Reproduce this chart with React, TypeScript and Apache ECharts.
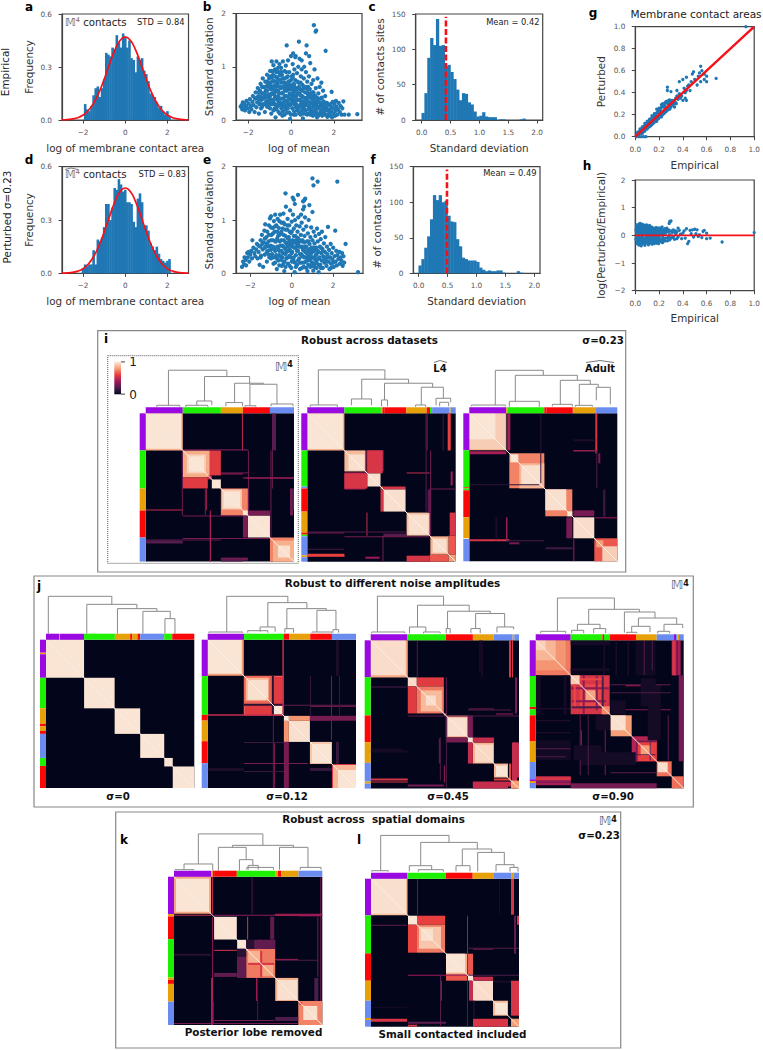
import React, { useEffect, useRef } from "react";
import * as echarts from "echarts";

const FONT = "DejaVu Sans";
const BLUE = "#1f77b4";
const RED = "#f5111a";

// ---------- histograms ----------
const histAX = [-1.9,-1.8,-1.7,-1.6,-1.5,-1.4,-1.3,-1.2,-1.1,-1.0,-0.9,-0.8,-0.7,-0.6,-0.5,-0.4,-0.3,-0.2,-0.1,0,0.1,0.2,0.3,0.4,0.5,0.6,0.7,0.8,0.9,1.0,1.1,1.2,1.3,1.4,1.5,1.6,1.7,1.8,1.9,2.0,2.1];
const histAY = [.09,.06,.05,.08,.14,.18,.19,.13,.18,.23,.38,.37,.36,.41,.40,.48,.44,.41,.49,.47,.41,.45,.35,.34,.27,.36,.34,.35,.28,.26,.22,.15,.14,.13,.10,.07,.08,.05,.03,.05,.02];
const histDX = [-2.0,-1.9,-1.8,-1.7,-1.6,-1.5,-1.4,-1.3,-1.2,-1.1,-1.0,-0.9,-0.8,-0.7,-0.6,-0.5,-0.4,-0.3,-0.2,-0.1,0,0.1,0.2,0.3,0.4,0.5,0.6,0.7,0.8,0.9,1.0,1.1,1.2,1.3,1.4,1.5,1.6,1.7,1.8,1.9,2.0,2.1];
const histDY = [.03,.05,.04,.05,.05,.13,.05,.19,.18,.20,.26,.39,.39,.30,.37,.48,.47,.53,.50,.46,.47,.40,.40,.39,.29,.26,.42,.45,.40,.27,.27,.24,.17,.15,.13,.15,.11,.08,.07,.06,.07,.08];
const fitX = [-3,-2.75,-2.5,-2.25,-2,-1.75,-1.5,-1.25,-1,-0.75,-0.5,-0.25,0,0.25,0.5,0.75,1,1.25,1.5,1.75,2,2.25,2.5,2.75,3];
const fitA = [.001,.002,.006,.013,.028,.054,.096,.155,.231,.315,.394,.45,.47,.45,.394,.315,.231,.155,.096,.054,.028,.013,.006,.002,.001];
const fitD = [.001,.002,.005,.012,.026,.052,.094,.155,.232,.319,.40,.459,.48,.459,.40,.319,.232,.155,.094,.052,.026,.012,.005,.002,.001];
const histCX = [.025,.075,.125,.175,.225,.275,.325,.375,.425,.475,.525,.575,.625,.675,.725,.775,.825,.875,.925,.975,1.025,1.075,1.125,1.175,1.225,1.275,1.375,1.425,1.725,1.775];
const histCY = [10,38,88,116,106,143,105,106,76,78,68,58,43,28,38,37,25,22,12,5,6,11,5,4,4,4,1,1,1,2];
const histFX = [.025,.075,.125,.175,.225,.275,.325,.375,.425,.475,.525,.575,.625,.675,.725,.775,.825,.875,.925,.975,1.025,1.075,1.125,1.175,1.225,1.275,1.325,1.375,1.425,1.475,1.725,1.775];
const histFY = [11,20,36,52,76,110,103,110,100,102,81,73,72,48,38,22,20,18,18,18,16,8,5,3,4,3,3,4,4,1,3,1];

// ---------- scatters (flat x,y pairs) ----------
const scatterB = [-2.35,.25,-2.3,.28,-2.28,.2,-2.25,.33,-2.2,.22,-2.18,.3,-2.15,.18,-2.1,.26,-2.08,.36,-2.02,.22,-1.98,.31,-1.95,.15,-1.92,.39,-1.88,.26,-1.85,.2,-1.8,.34,-1.78,.45,-1.75,.28,-1.7,.15,-1.68,.4,-1.65,.52,-1.62,.24,-1.58,.33,-1.55,.6,-1.52,.45,-1.5,.12,-1.48,.3,-1.45,.55,-1.42,.68,-1.4,.22,-1.38,.38,-1.35,.5,-1.32,.78,-1.3,.62,-1.28,.3,-1.25,.43,-1.22,.15,-1.2,.72,-1.18,.55,-1.15,.35,-1.12,.85,-1.1,.65,-1.08,.25,-1.05,.48,-1.02,.78,-1.0,.38,-.98,.92,-.95,.58,-.92,.12,-.9,1.1,-.88,.72,-.86,.3,-.84,.85,-.82,1.03,-.8,.48,-.78,.65,-.76,.22,-.74,.95,-.72,.05,-.7,.55,-.68,1.1,-.66,.8,-.64,.38,-.62,.68,-.6,.9,-.58,.15,-.56,.5,-.54,1.05,-.52,.28,-.5,.75,-.48,.6,-.46,.98,-.44,.4,-.42,.85,-.4,.08,-.38,1.1,-.36,.52,-.34,.7,-.32,.25,-.3,.92,-.28,.62,-.26,.35,-.24,1.02,-.22,.45,-.2,.8,-.18,.14,-.16,.58,-.14,1.12,-.12,.72,-.1,.3,-.08,.9,-.06,.5,-.04,.02,-.02,.65,0,1.2,.02,.38,.04,.82,.06,.22,.08,1.05,.1,.55,.12,.68,.14,.1,.16,.95,.18,.45,.2,.75,.22,1.2,.24,.3,.26,.6,.28,.88,.3,.18,.32,.5,.34,1.0,.36,.7,.38,.38,.4,1.15,.42,.12,.44,.58,.46,.82,.48,.26,.5,.95,.52,.45,.54,.66,.56,.03,.58,.34,.6,.78,.62,1.0,.64,.2,.66,.52,.68,.4,.7,.9,.72,.6,.74,.28,.76,.72,.78,.12,.8,.48,.82,.35,.84,.82,.86,.24,.88,.58,.9,1.07,.92,.42,.94,.16,.96,.68,.98,.32,1.0,.52,1.02,.08,1.04,.75,1.06,.25,1.08,.45,1.1,.95,1.12,.35,1.14,.18,1.16,.6,1.18,.28,1.2,.42,1.22,.05,1.24,.78,1.26,.22,1.28,.5,1.3,.33,1.32,.12,1.34,.62,1.36,.25,1.38,.4,1.4,.17,1.42,.7,1.44,.3,1.46,.08,1.48,.2,1.5,.55,1.52,.35,1.55,.14,1.58,.26,1.6,.45,1.62,.1,1.65,.22,1.68,.32,1.7,.06,1.72,.18,1.75,.28,1.78,.12,1.8,.2,1.83,.08,1.85,.3,1.88,.16,1.9,.24,1.92,.05,1.95,.34,1.98,.12,2.0,.22,2.03,.3,2.06,.08,2.08,.17,2.1,.36,2.13,.25,2.16,.1,2.2,.2,2.23,.32,2.28,.15,2.32,.26,2.36,.1,2.4,.22,2.45,.35,2.5,.1,2.7,.1,3.1,.11,1.07,1.78,1.18,1.68,1.15,1.66,-.2,1.4,.37,1.47,.73,1.4,1.62,1.3,.85,1.2,.7,1.25,.1,1.25,.2,1.18,.5,1.12,1.9,.53,-.95,.3,-.85,.5,-.75,.42,-.65,.25,-.55,.33,-.45,.22,-.35,.4,-.25,.2,-.15,.44,-.05,.28,.05,.42,.15,.3,.25,.45,.35,.22,.45,.38,.55,.24,.65,.3,.75,.42,.85,.12,.95,.45,1.05,.38,1.15,.32,1.25,.4,-.6,.44,-.4,.3,-.2,.55,0,.48,.2,.6,.4,.5,.6,.6,.8,.62,1.0,.38,-.7,.72,-.5,.9,-.3,.78,-.1,.62,.1,.85];
const scatterB2 = [-1.6,.42,-1.5,.38,-1.5,.52,-1.42,.3,-1.42,.44,-1.35,.25,-1.35,.62,-1.28,.5,-1.28,.4,-1.2,.3,-1.2,.47,-1.2,.62,-1.12,.25,-1.12,.42,-1.12,.55,-1.12,.72,-1.05,.32,-1.05,.62,-1.05,.7,-.98,.22,-.98,.45,-.98,.68,-.98,.82,-.9,.38,-.9,.5,-.9,.62,-.9,.8,-.9,.92,-.82,.18,-.82,.36,-.82,.58,-.82,.74,-.82,.92,-.75,.3,-.75,.52,-.75,.64,-.75,.82,-.68,.2,-.68,.44,-.68,.62,-.68,.72,-.68,.9,-.6,.3,-.6,.55,-.6,.76,-.6,.98,-.52,.12,-.52,.4,-.52,.62,-.52,.84,-.45,.28,-.45,.5,-.45,.7,-.45,.9,-.38,.16,-.38,.32,-.38,.62,-.38,.78,-.3,.1,-.3,.45,-.3,.58,-.3,.7,-.22,.28,-.22,.36,-.22,.65,-.22,.9,-.15,.22,-.15,.34,-.15,.68,-.15,.82,-.08,.14,-.08,.4,-.08,.58,-.08,.72,0,.1,0,.3,0,.58,0,.75,.08,.32,.08,.46,.08,.6,.08,.8,.15,.16,.15,.38,.15,.52,.15,.66,.22,.1,.22,.24,.22,.36,.22,.56,.3,.38,.3,.58,.3,.72,.38,.14,.38,.26,.38,.5,.38,.62,.45,.1,.45,.3,.45,.46,.45,.7,.52,.18,.52,.32,.52,.55,.6,.12,.6,.25,.6,.42,.68,.18,.68,.3,.68,.62,.75,.1,.75,.35,.75,.52,.82,.2,.82,.44,.82,.58,.9,.1,.9,.3,.9,.5,.98,.14,.98,.22,.98,.42,1.05,.15,1.05,.3,1.05,.52,1.12,.1,1.12,.25,1.12,.46,1.2,.14,1.2,.34,1.28,.08,1.28,.24,1.28,.4,1.36,.12,1.36,.32,1.44,.18,1.44,.42,1.52,.1,1.52,.25,1.6,.18,1.6,.32];
const scatterE = [-2.4,.12,-2.35,.22,-2.3,.17,-2.28,.3,-2.22,.25,-2.2,.15,-2.15,.38,-2.12,.3,-2.08,.4,-2.05,.22,-2.0,.35,-1.95,.42,-1.92,.28,-1.9,.62,-1.85,.48,-1.8,.38,-1.76,.32,-1.72,.45,-1.68,.55,-1.65,.28,-1.6,.4,-1.55,.16,-1.52,.5,-1.5,.62,-1.48,.33,-1.44,.72,-1.4,.45,-1.38,.12,-1.35,.58,-1.32,.8,-1.3,.35,-1.28,.92,-1.25,.5,-1.22,.68,-1.2,.22,-1.18,.78,-1.15,.42,-1.12,.6,-1.1,.9,-1.08,.3,-1.05,1.03,-1.02,.52,-1.0,1.07,-.98,.72,-.95,.36,-.92,.85,-.9,.62,-.88,.18,-.86,.98,-.84,.46,-.82,.78,-.8,1.1,-.78,.3,-.76,.6,-.74,.9,-.72,.08,-.7,.5,-.68,1.02,-.66,.7,-.64,.24,-.62,.85,-.6,.42,-.58,.6,-.56,1.1,-.54,.32,-.52,.75,-.5,.95,-.48,.14,-.46,.52,-.44,.84,-.42,.38,-.4,1.12,-.38,.62,-.36,.04,-.34,.92,-.32,.46,-.3,.7,-.28,1.25,-.26,.28,-.24,.55,-.22,.82,-.2,1.02,-.18,.18,-.16,.42,-.14,.68,-.12,.9,-.1,.33,-.08,1.18,-.06,.52,-.04,.76,-.02,.1,0,.97,.02,.4,.04,.62,.06,1.1,.08,.25,.1,.84,.12,.48,.14,.02,.16,1.0,.18,.7,.2,.34,.22,.9,.24,.55,.26,.16,.28,.78,.3,.42,.32,1.05,.34,.6,.36,.28,.38,.88,.4,.08,.42,.5,.44,.72,.46,.36,.48,.95,.5,.2,.52,.62,.54,.44,.56,.82,.58,.12,.6,.3,.62,.7,.64,1.05,.66,.5,.68,.22,.7,.88,.72,.38,.74,.6,.76,.04,.78,.75,.8,.45,.82,1.0,.84,.28,.86,.55,.88,.14,.9,.68,.92,.36,.94,.86,.96,.48,.98,.2,1.0,.62,1.02,.3,1.04,.05,1.06,.78,1.08,.42,1.1,.56,1.12,.18,1.14,.7,1.16,.34,1.18,.48,1.2,.1,1.22,.84,1.24,.26,1.26,.6,1.28,.4,1.3,.02,1.32,.74,1.34,.3,1.36,.5,1.38,.16,1.4,.64,1.42,.38,1.44,.24,1.46,.78,1.48,.46,1.5,.1,1.52,.32,1.55,.56,1.58,.2,1.6,.4,1.62,.68,1.65,.28,1.68,.14,1.7,.5,1.72,.36,1.75,.87,1.78,.22,1.8,.44,1.82,.08,1.85,.3,1.88,.55,1.9,.18,1.93,.38,1.96,.26,2.0,.48,2.03,.12,2.06,.32,2.1,.8,2.12,.22,2.15,.42,2.18,.15,2.2,.34,2.25,.27,2.3,.4,2.33,.18,2.36,.3,2.4,.24,2.43,.38,2.46,.14,2.5,.32,2.53,.2,2.6,.55,3.2,.02,1.0,1.78,1.25,1.72,2.2,1.72,1.05,1.65,-.3,1.5,.3,1.47,.65,1.4,.6,1.37,.55,1.35,.05,1.42,.1,1.38,.15,1.3,.85,1.28,.6,1.25,.55,1.2,1.0,1.15,.45,1.1,-.55,.52,-.45,.3,-.35,.22,-.25,.4,-.15,.58,-.05,.3,.05,.5,.15,.2,.25,.42,.35,.5,.45,.6,.55,.32,.65,.4,.75,.24,.85,.4,.95,.3,1.05,.48,-.75,.34,-.65,.46,1.15,.25,1.25,.42];
const scatterE2 = [-1.6,.52,-1.5,.3,-1.42,.55,-1.3,.48,-1.3,.65,-1.2,.4,-1.2,.55,-1.1,.35,-1.1,.5,-1.1,.72,-1.0,.28,-1.0,.44,-1.0,.62,-1.0,.86,-.9,.3,-.9,.5,-.9,.75,-.8,.2,-.8,.42,-.8,.6,-.8,.88,-.7,.28,-.7,.65,-.7,.78,-.6,.15,-.6,.34,-.6,.72,-.6,.98,-.5,.25,-.5,.42,-.5,.62,-.5,.78,-.4,.18,-.4,.5,-.4,.72,-.4,.95,-.3,.12,-.3,.36,-.3,.58,-.3,.82,-.2,.3,-.2,.5,-.2,.66,-.2,.9,-.1,.14,-.1,.45,-.1,.62,-.1,.78,0,.22,0,.38,0,.55,0,.78,.1,.3,.1,.58,.1,.7,.2,.12,.2,.48,.2,.62,.3,.24,.3,.55,.3,.66,.4,.2,.4,.36,.4,.62,.5,.1,.5,.32,.5,.5,.6,.2,.6,.44,.6,.58,.7,.1,.7,.3,.7,.5,.8,.16,.8,.32,.8,.6,.9,.12,.9,.24,.9,.46,1.0,.14,1.0,.4,1.1,.12,1.1,.28,1.1,.46,1.2,.2,1.2,.36,1.3,.16,1.3,.28,1.4,.1,1.4,.48,1.5,.24,1.5,.42,1.6,.3,1.7,.22,1.8,.3,1.9,.1,2.0,.2];
const scatterG = [.27,.45,.27,.42,.3,.41,.37,.5,.4,.52,.43,.54,.48,.57,.49,.59,.55,.64,.54,.58,.58,.57,.58,.52,.6,.55,.6,.5,.55,.5,.52,.47,.47,.5,.44,.46,.46,.42,.42,.4,.42,.35,.4,.33,.43,.33,.38,.35,.68,.53,.35,.42,.35,.37,.33,.33,.33,.27,.3,.27,.29,.25,.28,.33,.25,.31,.22,.29,.2,.26,.18,.25,.16,.21,.14,.19,.12,.16,.1,.14,.08,.12,.06,.09,.04,.07,.02,.04,.27,.24,.25,.22,.22,.18,.2,.17,.18,.14,.16,.13,.14,.11,.12,.09,.1,.07,.08,.05,.06,.03,.01,0,.03,0,.05,0,.07,0,.09,0,.93,1.0,.99,.99,.03,.02,.05,.07,.07,.05,.09,.11,.11,.09,.13,.15,.15,.12,.17,.2,.19,.16,.21,.24,.23,.2,.24,.27,.26,.23,.28,.3,.3,.32,.31,.29,.32,.3,.34,.31,.36,.34,.37,.39,.39,.37,.41,.44,.43,.42,.45,.47,.5,.52,.53,.55,.56,.6,.23,.3,.26,.32,.29,.31,.31,.33,.2,.23,.15,.18,.11,.14,.13,.1,.17,.17,.19,.22,.22,.22,.24,.21];
const scatterG2 = [.01,.015,.015,.01,.02,.03,.025,.015,.03,.045,.035,.025,.04,.055,.045,.03,.05,.06,.055,.045,.06,.075,.065,.05,.07,.09,.075,.06,.08,.1,.085,.07,.09,.115,.095,.075,.1,.12,.105,.085,.11,.135,.115,.095,.12,.145,.125,.105,.13,.16,.135,.115,.14,.17,.145,.125,.15,.185,.155,.135,.16,.19,.165,.145,.17,.205,.175,.15,.18,.215,.185,.165,.19,.23,.195,.17,.2,.24,.205,.18,.21,.255,.215,.19,.22,.265,.225,.2,.23,.275,.235,.21,.24,.29,.245,.22,.25,.28,.255,.235,.26,.305,.265,.24,.27,.31,.275,.25,.28,.3,.285,.26,.29,.335,.295,.27,.31,.325,.32,.29,.34,.35,.345,.3];
const scatterH = [.01,.3,.015,-.3,.02,.35,.02,-.2,.025,.18,.03,-.35,.03,.4,.035,.1,.04,-.25,.04,.43,.045,.28,.05,-.38,.05,.2,.055,.4,.06,-.3,.06,.12,.065,.34,.07,-.22,.07,.38,.075,.25,.08,-.36,.08,-.12,.085,.32,.09,.16,.09,-.28,.095,.38,.1,-.2,.1,.3,.105,.1,.11,-.34,.115,.24,.12,.36,.12,-.26,.125,.16,.13,-.14,.135,.3,.14,-.32,.14,.2,.145,.08,.15,-.24,.155,.26,.16,.12,.16,-.3,.165,.2,.17,-.18,.175,.28,.18,-.28,.185,.14,.19,.24,.19,-.12,.195,-.3,.2,.18,.205,.26,.21,-.22,.215,.1,.22,.22,.22,-.16,.225,.3,.23,-.26,.235,.14,.24,.2,.24,-.12,.25,.24,.25,-.2,.26,.12,.265,.26,.27,-.1,.28,.2,.285,.43,.29,.5,.3,.52,.29,-.16,.3,.16,.31,.1,.31,-.08,.32,.2,.33,-.14,.34,.06,.35,.12,.36,-.06,.36,.26,.37,.18,.38,.04,.39,-.12,.4,.08,.41,.16,.42,-.1,.43,.24,.44,-.3,.45,-.22,.46,.18,.47,.06,.48,.2,.49,-.06,.5,.22,.51,.06,.52,.2,.53,-.04,.54,.02,.56,-.08,.57,.14,.58,.18,.6,-.12,.6,.08,.63,-.1,.73,-.24,1.0,.1,.01,.1,.02,-.1,.03,.22,.04,.05,.05,-.12,.06,-.05,.07,.14,.08,.05,.09,-.18,.1,.06,.11,-.08,.12,.12,.13,.04,.14,-.06,.15,.1,.16,-.06,.17,.06,.18,-.1,.19,.05,.2,-.06,.21,.12,.22,.04,.23,-.06];
const scatterH2 = [.005,.2,.005,-.15,.01,-.05,.012,.38,.015,.12,.018,-.24,.02,.25,.022,.04,.025,-.12,.028,.3,.03,-.05,.032,.12,.035,-.18,.035,.32,.038,-.3,.04,.2,.042,-.08,.045,.38,.048,.1,.05,-.22,.052,.3,.055,.02,.058,.18,.06,-.14,.062,.26,.065,-.24,.068,.06,.07,.28,.072,-.1,.075,-.28,.078,.18,.08,.32,.082,.08,.085,-.2,.088,.24,.09,.02,.092,-.06,.095,.12,.098,-.26,.1,.2,.102,-.1,.105,.3,.108,.02,.11,.18,.112,-.22,.115,-.12,.118,.08,.12,.28,.122,-.02,.125,.22,.128,-.18,.13,.06,.132,.2,.135,-.28,.138,.14,.14,.28,.142,-.12,.145,.22,.148,-.18,.15,.04,.152,.18,.155,-.1,.158,-.24,.16,.24,.162,.04,.165,-.14,.168,.14,.17,.22,.172,-.24,.175,.08,.178,-.06,.18,.2,.182,-.16,.185,.26,.188,.04,.19,-.2,.192,.12,.195,.2,.198,-.08,.2,.26,.205,-.14,.21,.04,.215,.2,.22,-.24,.225,.12,.23,.04,.235,.2,.24,-.2,.245,.1,.25,.04,.255,-.1,.26,.2,.27,.14,.27,-.2,.28,-.06,.28,.12,.29,.02,.3,-.1,.32,-.06,.34,.16,.33,.12,.35,-.12];

// ---------- clustered maps: cells are [x0,x1,y0,y1,value] in site index, symmetric ----------
const i1Cells = [[0,37,0,37,.84],[0,35.5,0,35.5,.98],[37,64,37,64,.83],[41,60,41,60,.93],[45,58,43,58,.98],[64,75,37,62,.58],[66,75,66,75,.98],[62,66,62,66,.5],[75,102,75,102,.74],[76,96,76,96,.92],[79,94,78,94,.98],[97,102,97,102,.98],[102,124,102,124,.98],[97,102,102,124,.3],[124,148,124,148,.74],[127,148,127,148,.84],[132,144,132,144,.97],[0,37,96,97,.5],[126,127,0,75,.25],[0,37,127,130,.22],[37,124,124.5,125.5,.3],[64,65,100,148,.3],[37,97,102,103,.3],[75,97,60,61,.45],[59,60,75,102,.3],[97,148,64,65,.45],[37,102,36,37,.3],[75,102,144,147,.28],[146,148,75,97,.22]];
const i1Links = [[22.7,81,8,36.7,43],[58.7,103.7,12.3,30,36.7],[88.7,117.7,10.7,29,30],[104,131,7.5,9.3,29],[51,66,8,8,12.3],[80,96.7,7,7,10.7],[125,147,7,7,9.3],[11,34,6.5,6.5,8],[40,62,6.5,6.5,8],[99,110,6.5,6.5,7.5]];
const i1Top = [[0,37,0],[37,75,1],[75,97,2],[97,124,3],[124,148,4]];
const i1Left = [[0,37,0],[37,75,1],[75,97,2],[97,124,3],[124,148,4]];

const i2Cells = [[0,37,0,37,.84],[0,35.5,0,35.5,.98],[37,58,37,58,.87],[41,57,41,57,.97],[59,76,37,58,.45],[37,60,60,75,.55],[60,73,60,73,.97],[58,60,58,60,.6],[73,76,73,76,.7],[76,98,73,76,.55],[76,98,76,98,.97],[99,122,99,122,.88],[101,121,101,121,.97],[122.7,141,122.7,141,.84],[125,139,125,139,.97],[122,141,141,148,.65],[99,122,142,148,.55],[141,148,141,148,.8],[141.5,142.5,0,37,.5],[99,122,59,60,.5],[118,119,0,98,.22],[122,148,75,76,.3],[76,99,120,123,.22],[0,37,140,143,.6],[37,122,122.5,123.5,.3],[0,37,119,120,.3],[0,37,135,136,.18],[143,145,58,72,.4]];
const i2Links = [[11,77.4,8.3,34,43.3],[54.3,101,14.3,30,34],[77,125,13.3,26,30],[113.7,135.7,8.3,15,26],[128.4,143,8,11,15],[44,64,8,8,14.3],[3,30,6.5,6.5,8.3],[74,80,7,7,13.3],[108,118,6.5,6.5,8.3],[132,141,7,7,11]];
const i2Top = [[0,37,0],[37,73.4,1],[73.4,75,2],[75,76.7,3],[76.7,98.7,3],[98.7,119,2],[119,122.4,3],[122.4,124.5,1],[124.5,142,4],[142,143,2],[143,148,4]];
const i2Left = [[0,37,0],[37,73,1],[73,75,4],[75,98,3],[98,119,2],[119,121,3],[121,122.7,1],[122.7,141.7,4],[141.7,143.5,2],[143.5,148,4]];

const i3Cells = [[0,37,0,37,.84],[0,36,0,36,.92],[0,26,0,26,.98],[0,37,38,41,.42],[40,75,40,75,.74],[41,49,41,49,.98],[50,75,50,75,.86],[52,72,52,72,.97],[76,103,76,103,.74],[76,97,76,97,.97],[98,103,98,103,.98],[104,125,104,125,.96],[104,125,97,103,.3],[125,148,125,148,.65],[133,148,133,148,.92],[127,134,127,134,.8],[126,128,0,40,.55],[40,50,129,131,.3],[37,38,104,125,.3],[126,148,104,105,.4],[104,126,37,38,.45],[76,104,135,136,.2],[134,135,77,103,.2],[71,72,0,70,.12],[104,126,26,28,.07],[37,75,127,128,.2]];
const i3Links = [[26,74,8.3,38,43],[46,108,12,33,38],[91,121,9,29,33],[110,129,8,26,29],[127,141,13,9,26],[2,36,7,7,8.3],[40,70,6.5,6.5,12],[83,103,7,7,9],[106,123,6.5,6.5,8]];
const i3Top = [[0,37,0],[37,38,2],[38,75,1],[75,77,3],[77,103,3],[103,104,3],[104,126,2],[126,148,4]];
const i3Left = [[0,37,0],[37,74,1],[74,75,3],[75,77,1],[77,104,3],[104,125,2],[125.7,148,4]];

const j1Cells = [[0,38,0,38,.98],[38,68.5,38,68.5,.98],[68.5,94,68.5,94,.98],[94,118,94,118,.98],[118,126.5,118,126.5,.98],[126.5,148,126.5,148,.98]];
const j1Links = [[2.3,65.7,6,35.3,43.3],[40.7,90.7,6,31,35.3],[71.3,110.7,6,28.3,31],[96.7,124,6,21,28.3],[118.7,128.7,6,6,21]];
const j1Top = [[0,13,0],[13,14,2],[14,38,0],[38,68.7,1],[68.7,84,2],[84,86,3],[86,91.3,2],[91.3,94,3],[94,118,4],[118,126,1],[126,148,3]];
const j1Left = [[0,13,0],[13,14.5,2],[14.5,38,0],[38,68.3,1],[68.3,84,2],[84,86.5,3],[86.5,91,2],[91,94,3],[94,118,4],[118,126,1],[126,148,3]];

const j2Cells = [[0,36,0,36,.8],[0,34,0,34,.98],[36,75.7,36,75.7,.68],[38,61,38,61,.86],[42,60,40,58,.97],[65.5,75.5,37,65,.58],[66,75,66,75,.98],[64,66,36,76,.1],[81,102,81,102,.97],[81,102,76,81,.78],[76,81,76,81,.98],[102,124,102,124,.9],[104,123,104,123,.98],[124,148,124,148,.86],[130,148,130,148,.98],[124,125,124,148,.55],[102,124,76,81,.3],[0,76,74.5,76,.5],[102,148,66,67,.35],[36,100,123,124,.3],[76,81,124,148,.3],[65,66,76,148,.25],[36,76,102,103,.15],[0,36,128,131,.07],[36,76,131,132,.15],[102,124,128,131,.14]];
const j2Links = [[19,80,7.7,37,43.3],[60,99,12.7,31,37],[79,118.3,11,29.3,31],[109,128,7.7,10,29.3],[52.3,67.3,8,8,12.7],[77,85.7,7,7,11],[125,130.7,7,7,10],[1,35,7,7,7.7],[104,124,7,7,7.7],[40,60,7,7,9]];
const j2Top = [[0,36.3,0],[36.3,75.7,1],[75.7,81.3,3],[81.3,102.3,2],[102.3,124,3],[124,148,4]];
const j2Left = [[0,36.3,0],[36.3,75,1],[75,80.7,3],[80.7,101.3,2],[101.3,123.3,3],[123.3,148,4]];

const j3Cells = [[0,37,0,37,.82],[0,35,0,35,.96],[37,46,37,46,.95],[46,73,37,46,.58],[46,73,46,73,.72],[50,71,50,71,.87],[55,65,55,65,.96],[73,75,73,75,.8],[75,97,75,97,.76],[77,96,77,96,.97],[75,97,97,102,.3],[97,102,97,102,.98],[102,123,102,123,.84],[104,122,104,122,.95],[102,123,97,102,.5],[123,137,123,137,.86],[125,136,125,136,.98],[102,148,141,146,.5],[142,148,102,137,.5],[123,140,138,140,.6],[140,148,140,148,.8],[0,37,138,140,.55],[0,37,141,142,.55],[125,142,73,74,.4],[98,123,68,69,.3],[69,70,97,140,.22],[0,37,46,47,.2],[75,76,37,75,.25],[37,73,144,146,.3],[75,76,76,148,.2],[108,112,0,32,.05],[0,37,110,112,.05]];
const j3Links = [[6.7,72.7,8.3,35,44],[46.7,98.3,13.3,29,35],[76.7,119.3,11.7,26.7,29],[104.7,133.7,11.7,13.3,26.7],[126,142.7,7.7,11,13.3],[38.7,55,7,8.3,13.3],[52.7,69.3,7,7,8.3],[100,109.3,7,7,11.7],[75.3,79.3,7,7,11.7],[1,34,7,7,8.3]];
const j3Top = [[0,36.7,0],[36.7,75,1],[75,102,3],[102,122.7,2],[122.7,141.7,4],[141.7,143.3,2],[143.3,148,4]];
const j3Left = [[0,36.7,0],[36.7,75,1],[75,101.7,3],[101.7,122.3,2],[122.3,141,4],[141,143,2],[143,148,4]];

const j4Cells = [[0,35,0,35,.72],[0,30,0,30,.78],[0,20,0,20,.86],[0,10,0,10,.93],[35,74,35,74,.55],[35,44,35,44,.92],[44,66,44,66,.62],[50,60,50,60,.82],[66,74,66,74,.75],[47,49,35,74,.35],[60,62,36,70,.35],[66,68,36,66,.2],[44,66,38,40,.62],[75,96,75,96,.8],[75,90,75,90,.97],[96,121,96,121,.45],[100,121,100,121,.6],[105,115,105,115,.8],[100,102,100,121,.3],[121,136,121,136,.7],[122,132,122,132,.96],[136,148,136,148,.7],[136,141,0,35,.5],[0,35,137,140,.55],[0,35,142,145,.42],[0,35,140,142,.35],[35,121,143,148,.3],[90,125,45,46,.45],[44,45,75,135,.25],[114,115,75,120,.25],[69,70,75,135,.32],[75,120,132,133,.25],[0,35,110,111,.15],[0,35,68,69,.1],[60,74,75,90,.05],[38,66,105,120,.05],[100,120,0,35,.04],[112,125,45,100,.05],[35,74,0,5,.05],[35,74,28,31,.05],[108,109,0,35,.22],[116,117,0,30,.2],[80,81,0,35,.1],[92,93,0,35,.1],[52,53,75,135,.2]];
const j4Links = [[21.7,78.7,9,31,42.3],[53,103.7,16,28.3,31],[88.7,119.3,7.7,22.3,28.3],[102.7,141,14,16,22.3],[128.3,147,9,12.3,16],[41.7,64.3,10,11.7,16],[96,114.3,8,8,14],[36,48,7,7,10],[58,70,7,7,11.7],[91,101,7,7,8],[122,134,7,7,9],[5,30,7,7,9]];
const j4Top = [[0,35,0],[35,66.7,1],[66.7,68.3,3],[68.3,74.3,1],[74.3,100.3,3],[100.3,121,2],[121,138.3,4],[138.3,140.3,0],[140.3,141.7,4],[141.7,143.3,2],[143.3,148,4]];
const j4Left = [[0,35.7,0],[35.7,66.7,1],[66.7,69,3],[69,75,1],[75,100.7,3],[100.7,121.7,2],[121.7,139,4],[139,140.7,0],[140.7,142.7,2],[142.7,148,4]];

const kCells = [[0,37,0,37,.82],[2,35,2,35,.98],[40,62.7,40,62.7,.98],[0,37,38,39,.5],[40,148,38,39,.35],[63,72,63,72,.98],[72,101,72,101,.72],[74,86,74,86,.85],[88,99,88,99,.82],[86,88,74,100,.55],[72,74,72,74,.9],[63,72,83,88,.5],[63,72,88,101,.32],[72,101,63,72,.25],[72,80,63,72,.1],[101,124,101,124,.84],[103,123,103,123,.97],[124,148,124,148,.74],[129,143,129,143,.97],[125,128,125,128,.6],[101,124,82,83,.45],[40,62.7,73,74,.55],[40,62.7,96,100,.25],[146,147,0,124,.3],[40,100,143,144,.3],[101,124,140,144,.2],[0,37,77,79,.1],[37,38,101,148,.45],[83,84,102,144,.2],[101,124,38,39,.45],[124,146,38,39.5,.4]];
const kLinks = [[24.3,88.7,12.7,31.3,42.7],[58.3,119.3,29.3,29.3,31.3],[44.3,72,6,17,29.3],[65.3,78.7,6,11.3,17],[105.3,133.7,7,9.3,29.3],[10,38.7,7,6,12.7],[72.7,99.3,7,7,9.3],[126,146.7,7,7,9.3],[74,84,7,7,11.3],[1,20,6.5,6.5,7]];
const kTop = [[0,37,0],[37,38.7,2],[38.7,40,3],[40,62.7,3],[62.7,101,1],[101,103.7,2],[103.7,107,3],[107,124.3,2],[124.3,148,4]];
const kLeft = [[0,37.3,0],[37.3,39.7,2],[39.7,62.3,3],[62.3,100.7,1],[100.7,103,2],[103,107,3],[107,124.7,2],[124.7,148,4]];

const lCells = [[0,36.5,0,36.5,.88],[0,35,0,35,.97],[37,46,37,46,.98],[46,74,37,46,.6],[46,74,46,74,.72],[48,70,48,70,.9],[50,62,50,62,.97],[75,96,75,96,.84],[75,94,75,94,.98],[75,96,96,102,.65],[96,102,96,102,.98],[102,122,102,122,.96],[102,122,98,102,.5],[122,137,122,137,.86],[124,136,124,136,.98],[140,148,102,137,.55],[140,148,140,148,.8],[0,36,140,143,.55],[146,148,37,46,.55],[0,36,46,47,.25],[37,96,96,97,.4],[102,122,70,71,.3],[69,70,96,148,.22],[0,36,128,129,.06],[37,75,143,145,.25],[96,97,97,148,.2],[122,140,102,104,.06]];
const lLinks = [[9.7,78,8,36.3,43.3],[49.7,106.3,13,29.7,36.3],[91.3,120.7,13,26.3,29.7],[106.7,133.3,7.3,14,26.3],[125,143,7.3,11.3,14],[38.3,60.7,7.3,9,13],[85,99,7.3,7.3,13],[47.3,72.3,7,7,9],[0.7,17.3,7,7,8],[139,147,7,7,11.3]];
const lTop = [[0,36.3,0],[36.3,74.7,1],[74.7,101.7,3],[101.7,122.3,2],[122.3,140.7,4],[140.7,142.3,2],[142.3,148,4]];
const lLeft = [[0,36.7,0],[36.7,74.7,1],[74.7,102,3],[102,122,2],[122,139.3,4],[139.3,141.3,2],[141.3,148,4]];

const barColors = ["#9a08e2", "#1df000", "#e8a008", "#fa0808", "#6a8cf0"];

const rocketStops: [number, number[]][] = [
  [0, [3, 5, 26]], [0.2, [76, 29, 75]], [0.4, [161, 26, 91]], [0.6, [232, 63, 63]], [0.8, [246, 160, 120]], [1, [250, 235, 221]],
];
function rocket(v: number) {
  for (let i = 1; i < rocketStops.length; i++) {
    const [b, cb] = rocketStops[i];
    const [a, ca] = rocketStops[i - 1];
    if (v <= b) {
      const t = (v - a) / (b - a);
      const c = ca.map((p, k) => Math.round(p + (cb[k] - p) * t));
      return `rgb(${c[0]},${c[1]},${c[2]})`;
    }
  }
  return "rgb(250,235,221)";
}

const pairs = (f: number[]) => {
  const out: number[][] = [];
  for (let i = 0; i < f.length; i += 2) out.push([f[i], f[i + 1]]);
  return out;
};
const zip = (a: number[], b: number[]) => a.map((x, i) => [x, b[i]]);

function buildOption() {
  const grid: any[] = [], xAxis: any[] = [], yAxis: any[] = [], series: any[] = [], graphic: any[] = [];

  const labelStyle = { fontFamily: FONT, fontSize: 7.3, color: "#555" };
  const nameStyle = { fontFamily: FONT, fontSize: 10.4, color: "#333" };
  function plot(l: number, r: number, t: number, b: number, xr: number[], xt: number[], xd: number, xn: string, xg: number, yr: number[], yt: number[], yd: number, yn: string, yg: number) {
    const idx = grid.length;
    grid.push({ left: l, top: t, width: r - l, height: b - t, show: true, borderColor: "#444", borderWidth: 1.2, backgroundColor: "#fff" });
    const mk = (range: number[], ticks: number[], dec: number, name: string, gap: number, pos: string) => ({
      type: "value", gridIndex: idx, position: pos, min: range[0], max: range[1], name, nameLocation: "middle", nameGap: gap, nameTextStyle: nameStyle,
      splitLine: { show: false },
      axisLine: { show: true, onZero: false, lineStyle: { color: "#444", width: 1.2 } },
      axisTick: { show: true, length: 3.5, customValues: ticks, lineStyle: { color: "#444", width: 1 } },
      axisLabel: { show: true, customValues: ticks, margin: pos === "bottom" ? 9 : 10, hideOverlap: false, showMinLabel: true, showMaxLabel: true, ...labelStyle, formatter: (v: number) => v.toFixed(dec).replace("-", "\u2212") },
    });
    xAxis.push(mk(xr, xt, xd, xn, xg, "bottom"));
    yAxis.push(mk(yr, yt, yd, yn, yg, "left"));
    return idx;
  }
  const bars = (i: number, d: number[][], w: number) => series.push({ type: "bar", xAxisIndex: i, yAxisIndex: i, data: d, barWidth: w, itemStyle: { color: BLUE }, silent: true });
  const line = (i: number, d: number[][], w: number, extra: any = {}) => series.push({ type: "line", xAxisIndex: i, yAxisIndex: i, data: d, symbol: "none", lineStyle: { color: RED, width: w, ...extra }, silent: true, z: 5 });
  const dots = (i: number, d: number[][], s: number) => series.push({ type: "scatter", xAxisIndex: i, yAxisIndex: i, data: d, symbolSize: s, itemStyle: { color: BLUE, opacity: 1 }, silent: true });

  const a = plot(62, 188.5, 14, 120, [-3, 3], [-2, 0, 2], 0, "log of membrane contact area", 23, [0, 0.6], [0, 0.3, 0.6], 1, "Frequency", 28);
  bars(a, zip(histAX, histAY), 2.6); line(a, zip(fitX, fitA), 1.7, {});
  series[series.length - 1].smooth = true;
  const b = plot(236, 362, 13.5, 120, [-2.57, 3.32], [-2, 0, 2], 0, "log of mean", 23, [0, 2], [0, 1, 2], 0, "Standard deviation", 22);
  dots(b, pairs(scatterB), 4.3); dots(b, pairs(scatterB2), 4.3);
  const c = plot(415.7, 542.7, 14, 120, [-0.104, 2.096], [0, 0.5, 1, 1.5, 2], 1, "Standard deviation", 23, [0, 150], [0, 50, 100, 150], 0, "# of contacts sites", 31);
  bars(c, zip(histCX, histCY), 3.3); line(c, [[0.42, 0], [0.42, 146]], 2.6, { type: [6, 2.5] });
  const d = plot(62, 188.5, 166.7, 273.3, [-3, 3], [-2, 0, 2], 0, "log of membrane contact area", 23, [0, 0.6], [0, 0.3, 0.6], 1, "Frequency", 28);
  bars(d, zip(histDX, histDY), 2.6); line(d, zip(fitX, fitD), 1.7, {});
  series[series.length - 1].smooth = true;
  const e = plot(236, 363, 166.7, 273.3, [-2.69, 3.44], [-2, 0, 2], 0, "log of mean", 23, [0, 2], [0, 1, 2], 0, "Standard deviation", 22);
  dots(e, pairs(scatterE), 4.3); dots(e, pairs(scatterE2), 4.3);
  const f = plot(413.3, 540, 166.7, 273.3, [-0.093, 2.1], [0, 0.5, 1, 1.5, 2], 1, "Standard deviation", 23, [0, 150], [0, 50, 100, 150], 0, "# of contacts sites", 31.5);
  bars(f, zip(histFX, histFY), 3.3); line(f, [[0.49, 0], [0.49, 146]], 2.6, { type: [6, 2.5] });
  const g = plot(635.3, 756.7, 26.7, 136.7, [0, 1], [0, .2, .4, .6, .8, 1], 1, "Empirical", 23, [0, 1], [0, .2, .4, .6, .8, 1], 1, "Perturbed", 29);
  dots(g, pairs(scatterG), 3.3); dots(g, pairs(scatterG2), 3.3); line(g, [[0, 0], [1, 1]], 2.4);
  const h = plot(635.3, 756.7, 180, 290.7, [0, 1], [0, .2, .4, .6, .8, 1], 1, "Empirical", 22, [-2, 2], [-2, -1, 0, 1, 2], 0, "log(Perturbed/Empirical)", 29);
  dots(h, pairs(scatterH), 3.3); dots(h, pairs(scatterH2), 3.3); line(h, [[0, 0], [1, 0]], 1.8);

  // clustered maps
  function heat(L: number, R: number, T: number, cells: number[][], links: number[][], top: number[][], left: number[][]) {
    const s = (R - L) / 148;
    const idx = grid.length;
    grid.push({ left: L - 6 * s, top: T - 44 * s, width: 154 * s, height: 192 * s, show: false });
    xAxis.push({ type: "value", gridIndex: idx, min: -6, max: 148, show: false });
    yAxis.push({ type: "value", gridIndex: idx, min: -44, max: 148, inverse: true, show: false });
    const data: number[][] = [[0, 148, 0, 148, 0]];
    cells.forEach(([x0, x1, y0, y1, v]) => {
      data.push([x0, x1, y0, y1, v]);
      if (x0 !== y0 || x1 !== y1) data.push([y0, y1, x0, x1, v]);
    });
    const rect = (api: any, color: string) => {
      const p0 = api.coord([api.value(0), api.value(2)]);
      const p1 = api.coord([api.value(1), api.value(3)]);
      return { type: "rect", shape: { x: p0[0], y: p0[1], width: p1[0] - p0[0], height: p1[1] - p0[1] }, style: { fill: color } };
    };
    series.push({ type: "custom", xAxisIndex: idx, yAxisIndex: idx, clip: false, silent: true, encode: { x: [0, 1], y: [2, 3] }, data,
      renderItem: (_: any, api: any) => rect(api, rocket(api.value(4))) });
    series.push({ type: "line", xAxisIndex: idx, yAxisIndex: idx, symbol: "none", silent: true, data: [[0, 0], [148, 148]], lineStyle: { color: "#fbeee3", width: 1 }, z: 3 });
    const strip = [
      ...top.map(([a0, a1, c0]) => [a0, a1, -6, 0, c0]),
      ...left.map(([a0, a1, c0]) => [-6, 0, a0, a1, c0]),
    ];
    series.push({ type: "custom", xAxisIndex: idx, yAxisIndex: idx, clip: false, silent: true, encode: { x: [0, 1], y: [2, 3] }, data: strip,
      renderItem: (_: any, api: any) => rect(api, barColors[api.value(4)]) });
    series.push({ type: "custom", xAxisIndex: idx, yAxisIndex: idx, clip: false, silent: true, encode: { x: [0, 1] }, data: links,
      renderItem: (_: any, api: any) => {
        const xl = api.value(0), xr = api.value(1), hl = api.value(2), hr = api.value(3), tp = api.value(4);
        const pts = [[xl, -hl], [xl, -tp], [xr, -tp], [xr, -hr]].map((q) => api.coord(q));
        return { type: "polyline", shape: { points: pts }, style: { fill: "none", stroke: "#8a8a8a", lineWidth: 1 } };
      } });
  }
  heat(145.7, 294, 413.3, i1Cells, i1Links, i1Top, i1Left);
  heat(307.3, 455.7, 413.3, i2Cells, i2Links, i2Top, i2Left);
  heat(469.3, 617.3, 413.3, i3Cells, i3Links, i3Top, i3Left);
  heat(46, 194.3, 639.7, j1Cells, j1Links, j1Top, j1Left);
  heat(207.7, 356, 639.7, j2Cells, j2Links, j2Top, j2Left);
  heat(370.7, 519, 640.3, j3Cells, j3Links, j3Top, j3Left);
  heat(535.7, 683.7, 640.3, j4Cells, j4Links, j4Top, j4Left);
  heat(174, 322.3, 876.7, kCells, kLinks, kTop, kLeft);
  heat(371, 519, 878.7, lCells, lLinks, lTop, lLeft);

  // texts
  const txt = (text: string, x: number, y: number, size: number, o: any = {}) =>
    graphic.push({ type: "text", x, y, rotation: o.rot || 0, silent: true, z: 20, style: { text, fontFamily: FONT, fontSize: size, fontWeight: o.bold ? "bold" : "normal", fill: o.fill || "#222", align: o.align || "center", verticalAlign: "middle" } });
  [["a", 29, 7], ["b", 207, 7], ["c", 372, 7], ["d", 29, 160], ["e", 207, 160], ["f", 373, 160], ["g", 593, 13], ["h", 587, 166], ["i", 106, 339], ["j", 39, 586], ["k", 124, 840], ["l", 359, 840]].forEach(([s, x, y]) => txt(s as string, x as number, y as number, 12, { bold: true, fill: "#000" }));
  txt("Empirical", 5, 72, 10.4, { rot: Math.PI / 2 });
  txt("Perturbed \u03c3=0.23", 7, 217, 10.4, { rot: Math.PI / 2 });
  txt("STD = 0.84", 184.5, 22, 8.3, { align: "right" });
  txt("STD = 0.83", 186, 174, 8.3, { align: "right" });
  txt("Mean = 0.42", 539.5, 22, 8.3, { align: "right" });
  txt("Mean = 0.49", 536.5, 173, 8.3, { align: "right" });
  txt("Membrane contact areas", 696, 13.5, 10.5);
  const m4 = (x: number, y: number, big: number, small: number, rest: string, restSize: number, bold: boolean) =>
    graphic.push({ type: "text", x, y, silent: true, z: 20, style: { text: `{m|\u{1D544}}{s|4}${rest ? `{r|${rest}}` : ""}`, align: "left", verticalAlign: "middle",
      rich: { m: { fontFamily: FONT, fontSize: big, fill: "#555", fontWeight: "normal" }, s: { fontFamily: FONT, fontSize: small, fill: bold ? "#111" : "#666", fontWeight: bold ? "bold" : "normal", verticalAlign: "top", padding: [0, 0, 4, 0] }, r: { fontFamily: FONT, fontSize: restSize, fill: "#222" } } } });
  m4(65, 22, 10.5, 6.5, " contacts", 10.2, false);
  m4(65, 174, 10.5, 6.5, " contacts", 10.2, false);
  m4(275, 366.5, 12, 8, "", 0, true);
  m4(671, 585, 12, 8, "", 0, true);
  m4(599, 821, 12, 8, "", 0, true);

  const bd = { bold: true, fill: "#111" };
  txt("Robust across datasets", 369.5, 340, 10.4, bd);
  txt("\u03c3=0.23", 603, 340, 10.2, bd);
  txt("L4", 440, 368, 10, bd);
  txt("Adult", 600, 368, 10, bd);
  txt("1", 133, 362, 12, { fill: "#222" });
  txt("0", 133, 395, 12, { fill: "#222" });
  txt("Robust to different noise amplitudes", 392.5, 583, 10.4, bd);
  txt("\u03c3=0", 118, 796, 10.2, bd);
  txt("\u03c3=0.12", 287, 796, 10.2, bd);
  txt("\u03c3=0.45", 448, 796, 10.2, bd);
  txt("\u03c3=0.90", 613, 796, 10.2, bd);
  txt("Robust across  spatial domains", 373.5, 819, 10.4, bd);
  txt("\u03c3=0.23", 599, 835, 10.2, bd);
  txt("Posterior lobe removed", 253.5, 1032, 10.4, bd);
  txt("Small contacted included", 452.5, 1033.5, 10.4, bd);

  // frames and small decoration
  const frame = (x: number, y: number, w: number, h: number, o: any = {}) =>
    graphic.push({ type: "rect", silent: true, z: 1, shape: { x, y, width: w, height: h }, style: { fill: "none", stroke: o.stroke || "#888", lineWidth: o.w || 1.2, lineDash: o.dash } });
  frame(97.7, 330.7, 528, 241.3);
  frame(107.7, 355.7, 190.6, 207.6, { stroke: "#555", w: 1, dash: [1, 1] });
  frame(34, 576, 659.3, 231);
  frame(115.7, 812, 505, 236);
  const hat = (pts: number[][]) => graphic.push({ type: "polyline", silent: true, z: 20, shape: { points: pts }, style: { fill: "none", stroke: "#555", lineWidth: 0.8 } });
  hat([[434, 362.5], [440, 360.5], [447, 362.5]]);
  hat([[586, 362.5], [600, 360.5], [614, 362.5]]);
  hat([[65, 169.5], [71, 168], [78, 169.5]]);
  graphic.push({ type: "rect", silent: true, z: 10, shape: { x: 114.3, y: 361.7, width: 6.7, height: 32.6 }, style: { fill: new echarts.graphic.LinearGradient(0, 1, 0, 0, rocketStops.map(([o, c]) => ({ offset: o, color: `rgb(${c.join(",")})` }))) } });
  [361.9, 394.1].forEach((y) => graphic.push({ type: "line", silent: true, z: 10, shape: { x1: 121, y1: y, x2: 125, y2: y }, style: { stroke: "#444", lineWidth: 1 } }));

  return { animation: false, backgroundColor: "#fff", grid, xAxis, yAxis, series, graphic };
}

export default function App() {
  const ref = useRef<HTMLDivElement>(null);
  useEffect(() => {
    const chart = echarts.init(ref.current!, undefined, { renderer: "svg" });
    chart.setOption(buildOption());
    return () => chart.dispose();
  }, []);
  return <div ref={ref} style={{ position: "absolute", left: 0, top: 0, width: 763, height: 1050 }} />;
}
